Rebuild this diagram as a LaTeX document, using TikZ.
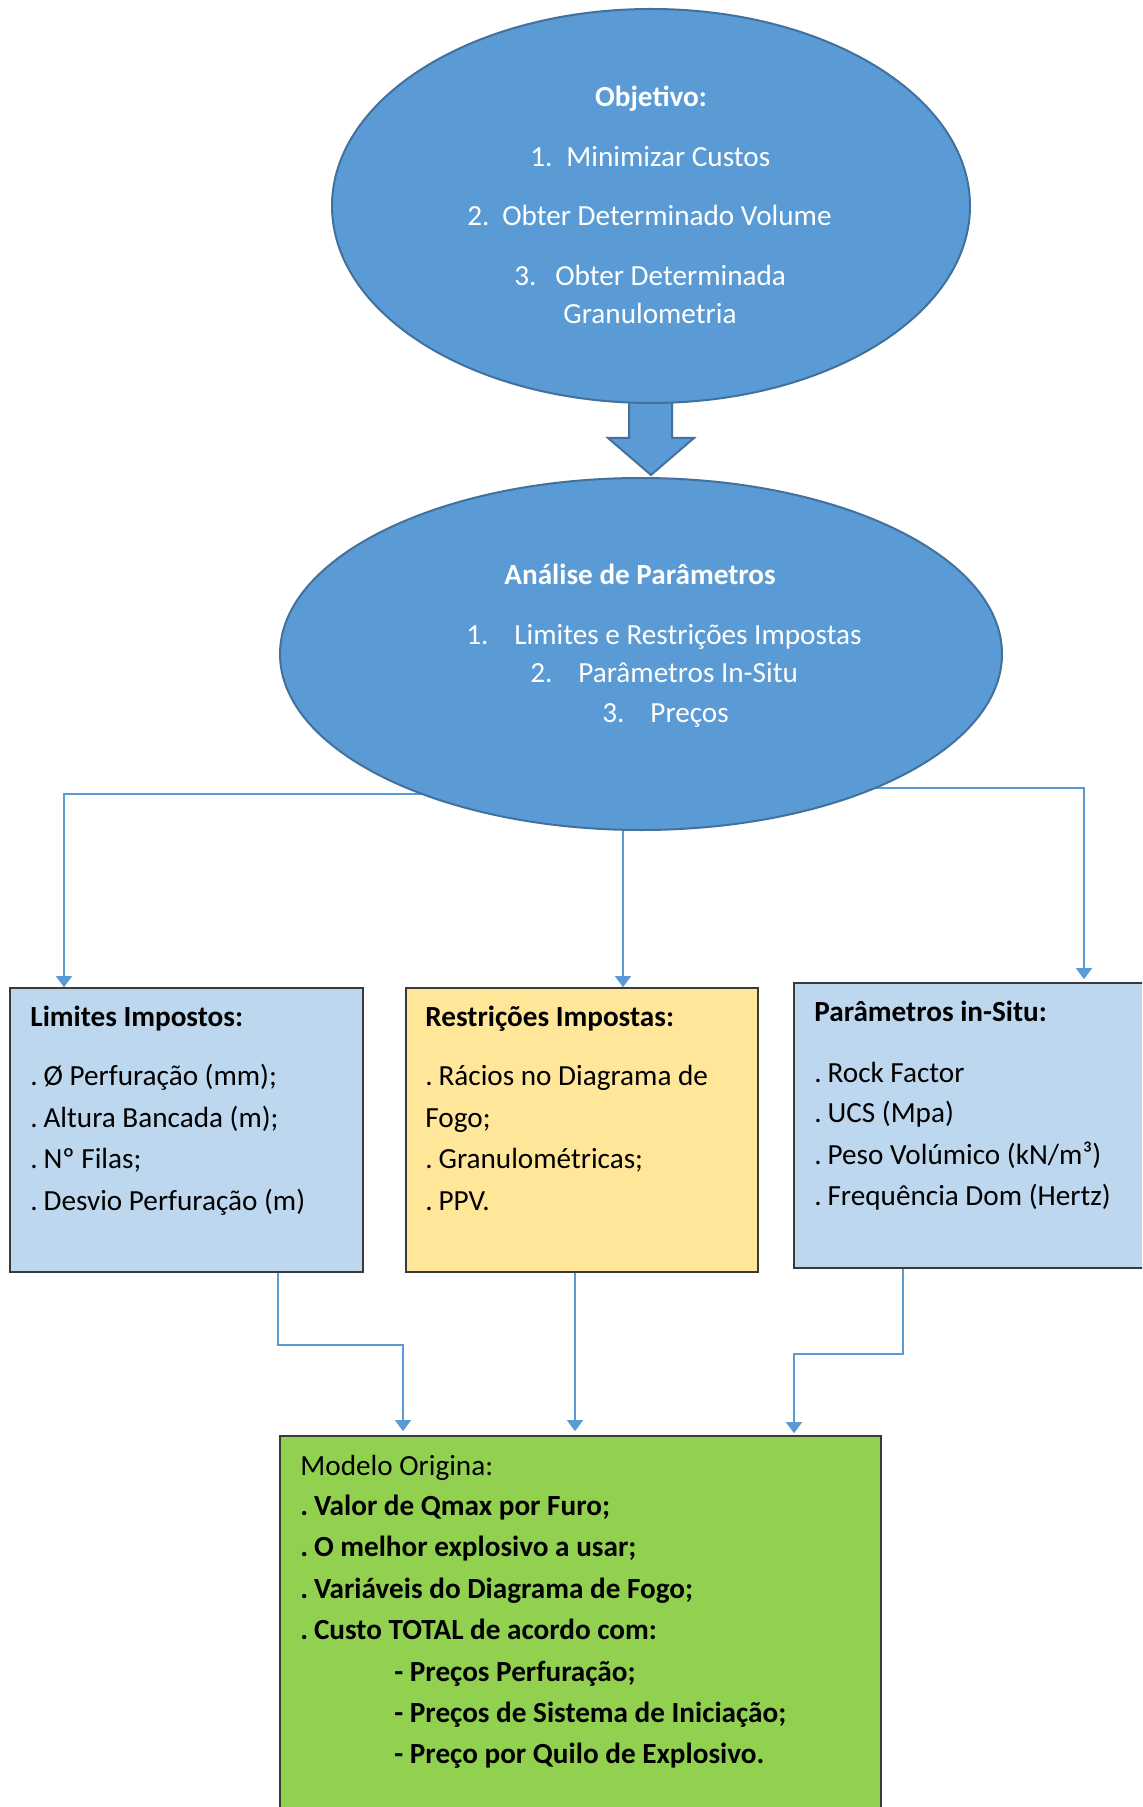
\documentclass[tikz,border=0pt]{standalone}
\usepackage{fontspec}
\setmainfont{Carlito}
\usetikzlibrary{shapes.geometric,arrows.meta,backgrounds}
\definecolor{ebl}{HTML}{5B9BD5}
\definecolor{ebd}{HTML}{41719C}
\definecolor{lbl}{HTML}{BDD7EE}
\definecolor{ylw}{HTML}{FFE699}
\definecolor{grn}{HTML}{92D050}
\definecolor{bdr}{HTML}{3A3A3A}
\newcommand\fsz{\fontsize{14.6pt}{17pt}\selectfont}
\begin{document}
\begin{tikzpicture}[x=0.5pt,y=-0.5pt,
 ell/.style={ellipse, draw=ebd, fill=ebl, line width=1pt, inner sep=0},
 box/.style={rectangle, draw=bdr, line width=0.8pt, inner sep=0},
 wt/.style={anchor=base west, inner sep=0, text=white, font=\fsz, yshift=-1.2pt},
 bt/.style={anchor=base west, inner sep=0, text=black, font=\fsz, yshift=-1.2pt},
 conn/.style={draw=ebl, line width=0.6pt, -{Triangle[width=8pt,length=5.5pt]}}]
\useasboundingbox (0,0) rectangle (1142,1807);
\clip (0,0) rectangle (1142,1807);

% block arrow
\draw[draw=ebd, fill=ebl, line width=1pt] (629,380) -- (629,438) -- (608,438) -- (651,475) -- (694,438) -- (672,438) -- (672,380) -- cycle;

\node[ell, minimum width=319pt, minimum height=197pt] (e1) at (651,206) {};
\node[ell, minimum width=361pt, minimum height=176pt] (e2) at (641,654) {};

\node[box, fill=lbl, minimum width=176.5pt, minimum height=142pt] (b1) at (186.5,1130) {};
\node[box, fill=ylw, minimum width=176pt, minimum height=142pt] (b2) at (582,1130) {};
\node[box, fill=lbl, minimum width=176.5pt, minimum height=142.5pt] (b3) at (970.5,1125.5) {};
\node[box, fill=grn, minimum width=300.5pt, minimum height=197pt] (b4) at (580.5,1633) {};

\coordinate (lj) at (64,794);
\coordinate (rj) at (1084,788);
\coordinate (mj) at (623,0);
\begin{scope}[on background layer]
\fill[white] (0,0) rectangle (1142,1807);
\draw[conn] (e2.center) |- (lj) -- (lj |- b1.north);
\draw[conn, shorten >=1.5pt] (e2.center) |- (rj) -- (rj |- b3.north);
\draw[conn] (e2.center -| mj) -- (mj |- b2.north);
\end{scope}

\coordinate (c1) at (278,1345);
\coordinate (c1b) at (403,1345);
\coordinate (c2) at (575,0);
\coordinate (c3) at (903,1354);
\coordinate (c3b) at (794,1354);
\draw[conn, shorten >=2pt] (b1.south -| c1) -- (c1) -- (c1b) -- (c1b |- b4.north);
\draw[conn, shorten >=2pt] (b2.south -| c2) -- (c2 |- b4.north);
\draw[conn, shorten >=1pt] (b3.south -| c3) -- (c3) -- (c3b) -- (c3b |- b4.north);

% ellipse 1 text
\node[wt, anchor=base] (o0) at (651,104) {\bfseries Objetivo:};
\node[wt] (o1n) at (530,164) {1.};
\node[wt] (o1) at (566,164) {Minimizar Custos};
\node[wt] (o2n) at (467,223) {2.};
\node[wt] (o2) at (502,223) {Obter Determinado Volume};
\node[wt] (o3n) at (514,283) {3.};
\node[wt] (o3) at (555,283) {Obter Determinada};
\node[wt] (o4) at (563,321) {Granulometria};

% ellipse 2 text
\node[wt] (a0) at (504,582) {\bfseries Análise de Parâmetros};
\node[wt] (a1n) at (466,642) {1.};
\node[wt] (a1) at (514,642) {Limites e Restrições Impostas};
\node[wt] (a2n) at (530,680) {2.};
\node[wt] (a2) at (578,680) {Parâmetros In-Situ};
\node[wt] (a3n) at (602,720) {3.};
\node[wt] (a3) at (650,720) {Preços};

% box 1
\node[bt] (l0) at (30,1024) {\bfseries Limites Impostos:};
\node[bt] (l1) at (30,1083) {.\hspace{0.2em}Ø Perfuração (mm);};
\node[bt] (l2) at (30,1125) {.\hspace{0.2em}Altura Bancada (m);};
\node[bt] (l3) at (30,1166) {.\hspace{0.2em}Nº Filas;};
\node[bt] (l4) at (30,1208) {.\hspace{0.2em}Desvio Perfuração (m)};

% box 2
\node[bt] (r0) at (425,1024) {\bfseries Restrições Impostas:};
\node[bt] (r1) at (425,1083) {.\hspace{0.2em}Rácios no Diagrama de};
\node[bt] (r2) at (425,1125) {Fogo;};
\node[bt] (r3) at (425,1166) {.\hspace{0.2em}Granulométricas;};
\node[bt] (r4) at (425,1208) {.\hspace{0.2em}PPV.};

% box 3
\node[bt] (p0) at (814,1019) {\bfseries Parâmetros in-Situ:};
\node[bt] (p1) at (814,1080) {.\hspace{0.2em}Rock Factor};
\node[bt] (p2) at (814,1120) {.\hspace{0.2em}UCS (Mpa)};
\node[bt] (p3) at (814,1162) {.\hspace{0.2em}Peso Volúmico (kN/m³)};
\node[bt] (p4) at (814,1203) {.\hspace{0.2em}Frequência Dom (Hertz)};

% box 4
\node[bt] (m0) at (300,1473) {Modelo Origina:};
\node[bt] (m1) at (300,1513) {\bfseries .\hspace{0.2em}Valor de Qmax por Furo;};
\node[bt] (m2) at (300,1554) {\bfseries .\hspace{0.2em}O melhor explosivo a usar;};
\node[bt] (m3) at (300,1596) {\bfseries .\hspace{0.2em}Variáveis do Diagrama de Fogo;};
\node[bt] (m4) at (300,1637) {\bfseries .\hspace{0.2em}Custo TOTAL de acordo com:};
\node[bt] (m5) at (394,1679) {\bfseries - Preços Perfuração;};
\node[bt] (m6) at (394,1720) {\bfseries - Preços de Sistema de Iniciação;};
\node[bt] (m7) at (394,1761) {\bfseries - Preço por Quilo de Explosivo.};
\end{tikzpicture}
\end{document}
